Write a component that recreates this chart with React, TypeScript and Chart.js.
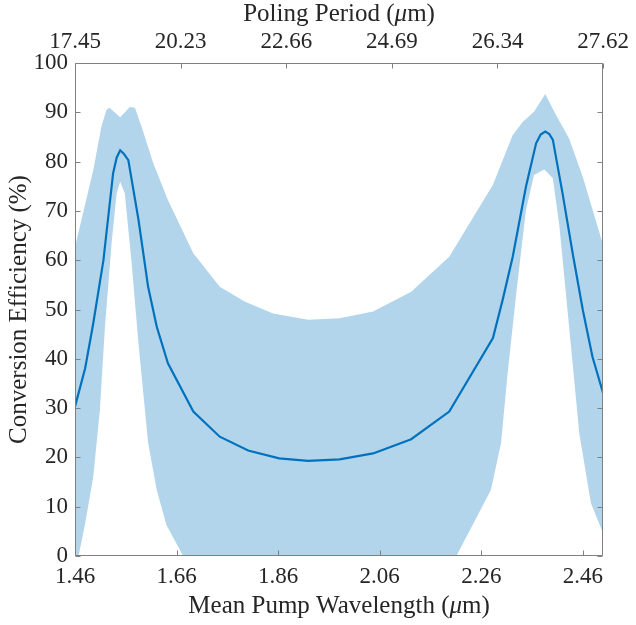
import React, { useEffect, useRef } from 'react';
import { Chart, registerables } from 'chart.js';

Chart.register(...registerables);

// mean conversion efficiency vs mean pump wavelength
const meanX = [1.46, 1.48, 1.496, 1.516, 1.535, 1.542, 1.549, 1.556, 1.565, 1.585, 1.604, 1.621, 1.643, 1.693, 1.745, 1.801, 1.862, 1.919, 1.981, 2.047, 2.122, 2.197, 2.283, 2.302, 2.322, 2.348, 2.368, 2.377, 2.386, 2.394, 2.401, 2.42, 2.44, 2.46, 2.479, 2.5];
const meanY = [30.3, 38.1, 47.2, 60.0, 77.6, 80.8, 82.3, 81.6, 80.3, 68.2, 54.6, 46.5, 39.1, 29.3, 24.2, 21.4, 19.8, 19.3, 19.6, 20.8, 23.7, 29.3, 44.2, 51.9, 60.7, 74.9, 83.7, 85.5, 86.1, 85.6, 84.4, 73.6, 61.4, 49.9, 40.4, 33.0];

// upper edge of the shaded band
const upperX = [1.46, 1.496, 1.512, 1.522, 1.528, 1.549, 1.568, 1.578, 1.591, 1.614, 1.643, 1.693, 1.745, 1.794, 1.85, 1.919, 1.981, 2.047, 2.122, 2.197, 2.237, 2.283, 2.322, 2.342, 2.364, 2.386, 2.407, 2.433, 2.46, 2.5];
const upperY = [62.7, 78.3, 87.1, 90.5, 90.9, 89.0, 91.1, 90.9, 87.1, 79.7, 72.2, 61.4, 54.6, 51.6, 49.2, 47.9, 48.2, 49.6, 53.6, 60.7, 67.5, 75.3, 85.4, 88.1, 90.1, 93.7, 89.5, 84.7, 76.9, 63.1];

// lower edge of the shaded band (goes below zero in the middle)
const lowerX = [1.46, 1.467, 1.48, 1.496, 1.509, 1.519, 1.532, 1.542, 1.549, 1.558, 1.571, 1.585, 1.604, 1.621, 1.64, 1.673, 1.75, 1.95, 2.15, 2.211, 2.279, 2.299, 2.312, 2.329, 2.348, 2.364, 2.384, 2.401, 2.414, 2.433, 2.453, 2.476, 2.5];
const lowerY = [-3, 0, 6.6, 16.1, 29.6, 46.5, 63.4, 73.6, 75.9, 73.6, 60.0, 43.1, 22.9, 13.4, 6.3, 0, -10, -15, -8, 0, 13.4, 22.9, 37.1, 53.3, 70.2, 77.3, 78.4, 76.6, 66.8, 46.5, 24.9, 10.7, 4.6];

const wavelengthTicks = [1.46, 1.66, 1.86, 2.06, 2.26, 2.46];
const polingTicks = ['17.45', '20.23', '22.66', '24.69', '26.34', '27.62'];
const efficiencyTicks = [0, 10, 20, 30, 40, 50, 60, 70, 80, 90, 100];

const X_MIN = 1.46;
const X_MAX = 2.5;
const FONT = '"Liberation Serif", "Times New Roman", serif';
const TEXT = '#262626';
const TICK_SIZE = 23;
const LABEL_SIZE = 25;

const toPoints = (xs: number[], ys: number[]) => xs.map((x, i) => ({ x, y: ys[i] }));

// draws text pieces each with its own font style, centred on cx
const drawMixed = (ctx: CanvasRenderingContext2D, parts: [string, string][], cx: number, cy: number) => {
  const widths = parts.map(([t, style]) => {
    ctx.font = `${style}${LABEL_SIZE}px ${FONT}`;
    return ctx.measureText(t).width;
  });
  let x = cx - widths.reduce((a, b) => a + b, 0) / 2;
  ctx.textAlign = 'left';
  ctx.textBaseline = 'middle';
  parts.forEach(([t, style], i) => {
    ctx.font = `${style}${LABEL_SIZE}px ${FONT}`;
    ctx.fillText(t, x, cy);
    x += widths[i];
  });
};

const framePlugin = {
  id: 'frame',
  afterDatasetsDraw(chart: any) {
    const { ctx, chartArea: a, scales } = chart;
    const L = Math.round(a.left) + 0.5;
    const R = Math.round(a.right) - 0.5;
    const T = Math.round(a.top) + 0.5;
    const B = Math.round(a.bottom) - 0.5;
    const len = 5;
    ctx.save();
    ctx.strokeStyle = '#808080';
    ctx.lineWidth = 1;
    ctx.beginPath();
    ctx.rect(L, T, R - L, B - T);
    scales.x.ticks.forEach((t: any) => {
      const px = Math.round(scales.x.getPixelForValue(t.value)) + 0.5;
      ctx.moveTo(px, B);
      ctx.lineTo(px, B - len);
    });
    scales.x2.ticks.forEach((t: any) => {
      const px = Math.round(scales.x2.getPixelForValue(t.value)) + 0.5;
      ctx.moveTo(px, T);
      ctx.lineTo(px, T + len);
    });
    scales.y.ticks.forEach((t: any) => {
      const py = Math.round(scales.y.getPixelForValue(t.value)) + 0.5;
      ctx.moveTo(L, py);
      ctx.lineTo(L + len, py);
      ctx.moveTo(R, py);
      ctx.lineTo(R - len, py);
    });
    ctx.stroke();

    ctx.fillStyle = TEXT;
    const cx = (a.left + a.right) / 2;
    drawMixed(ctx, [['Poling Period (', ''], ['\u03bc', 'italic '], ['m)', '']], cx, 14);
    drawMixed(ctx, [['Mean Pump Wavelength (', ''], ['\u03bc', 'italic '], ['m)', '']], cx, 606);
    ctx.restore();
  },
};

const App = () => {
  const canvasRef = useRef<HTMLCanvasElement>(null);

  useEffect(() => {
    document.body.style.margin = '0';
    const tickFont = { family: FONT, size: TICK_SIZE };
    const noGrid = { display: false, drawTicks: false };

    const chart = new Chart(canvasRef.current!, {
      type: 'line',
      data: {
        datasets: [
          {
            label: 'mean',
            data: toPoints(meanX, meanY),
            borderColor: '#0072BD',
            borderWidth: 2.2,
            pointRadius: 0,
            fill: false,
            tension: 0,
          },
          {
            label: 'upper',
            data: toPoints(upperX, upperY),
            borderWidth: 0,
            borderColor: 'rgba(0,0,0,0)',
            backgroundColor: 'rgb(179, 213, 235)',
            pointRadius: 0,
            fill: '+1',
            tension: 0,
          },
          {
            label: 'lower',
            data: toPoints(lowerX, lowerY),
            borderWidth: 0,
            borderColor: 'rgba(0,0,0,0)',
            pointRadius: 0,
            fill: false,
            tension: 0,
          },
        ],
      },
      options: {
        animation: false,
        responsive: false,
        layout: { padding: { left: 0, right: 31, top: 0, bottom: 0 } },
        plugins: { legend: { display: false }, tooltip: { enabled: false } },
        scales: {
          x: {
            type: 'linear',
            position: 'bottom',
            min: X_MIN,
            max: X_MAX,
            grid: noGrid,
            border: { display: false },
            afterBuildTicks: (scale: any) => {
              scale.ticks = wavelengthTicks.map((v) => ({ value: v }));
            },
            afterFit: (scale: any) => {
              scale.height = 69;
            },
            ticks: {
              autoSkip: false,
              maxRotation: 0,
              padding: 7,
              color: TEXT,
              font: tickFont,
              callback: (v: any) => Number(v).toFixed(2),
            },
          },
          x2: {
            type: 'linear',
            position: 'top',
            min: X_MIN,
            max: X_MAX,
            grid: noGrid,
            border: { display: false },
            afterBuildTicks: (scale: any) => {
              scale.ticks = polingTicks.map((_, i) => ({ value: X_MIN + (i * (X_MAX - X_MIN)) / (polingTicks.length - 1) }));
            },
            afterFit: (scale: any) => {
              scale.height = 63;
            },
            ticks: {
              autoSkip: false,
              maxRotation: 0,
              padding: 7,
              color: TEXT,
              font: tickFont,
              callback: (_v: any, i: number) => polingTicks[i],
            },
          },
          y: {
            type: 'linear',
            min: 0,
            max: 100,
            grid: noGrid,
            border: { display: false },
            afterBuildTicks: (scale: any) => {
              scale.ticks = efficiencyTicks.map((v) => ({ value: v }));
            },
            afterFit: (scale: any) => {
              scale.width = 75;
            },
            ticks: {
              padding: 7,
              color: TEXT,
              font: tickFont,
              callback: (v: any) => String(v),
            },
            title: {
              display: true,
              text: 'Conversion Efficiency (%)',
              color: TEXT,
              font: { family: FONT, size: LABEL_SIZE },
              padding: { top: 4, bottom: 0 },
            },
          },
        },
      },
      plugins: [framePlugin],
    });

    return () => {
      chart.destroy();
    };
  }, []);

  return (
    <div>
      <canvas ref={canvasRef} width={636} height={625} style={{ display: 'block' }}></canvas>
    </div>
  );
};

export default App;
